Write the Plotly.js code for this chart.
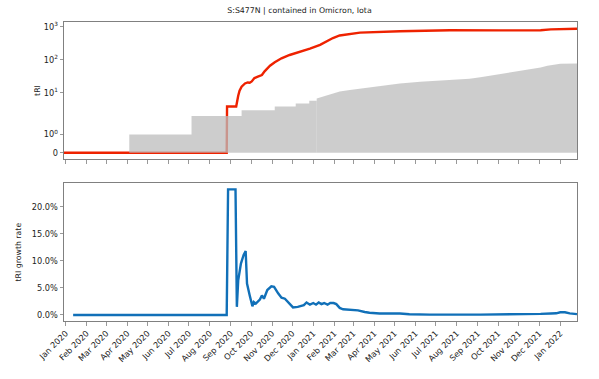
<!DOCTYPE html>
<html lang="en">
<head>
  <meta charset="UTF-8">
  <title>S:S477N tRI</title>
  <script src="https://cdn.plot.ly/plotly-3.0.1.min.js"></script>
  <style>
    body { margin: 0; background: #fff; }
    #chart { width: 599px; height: 379px; }
  </style>
</head>
<body>
  <div id="chart"></div>
  <script>
    // tRI (red line)
    const redDates = [
      "2019-12-29 12:00", "2020-08-26", "2020-08-26 12:00", "2020-09-09", "2020-09-12", "2020-09-14",
      "2020-09-17", "2020-09-22", "2020-09-26", "2020-09-29", "2020-10-02", "2020-10-06",
      "2020-10-11", "2020-10-17", "2020-10-21", "2020-10-29", "2020-11-05", "2020-11-15",
      "2020-11-27", "2020-12-07", "2020-12-12", "2020-12-27", "2021-01-11", "2021-01-30",
      "2021-02-09", "2021-02-24", "2021-03-11", "2021-05-09", "2021-07-22", "2021-10-05",
      "2021-12-03", "2021-12-18", "2022-01-01", "2022-01-25 18:00"
    ];
    const redValues = [
      0, 0, 3.9, 3.9, 8.2, 11.7,
      15.4, 19.3, 20.7, 20.3, 22.2, 28,
      30.8, 34.6, 45, 66, 84, 111,
      140, 160, 176, 217, 283, 455,
      545, 600, 665, 730, 780, 775,
      785, 830, 860, 870
    ];

    // background area: stepped part, then the smoother part
    const greyStepDates = [
      "2019-12-29 12:00", "2020-04-04", "2020-07-05", "2020-09-17", "2020-11-05", "2020-12-06",
      "2020-12-26", "2021-01-06"
    ];
    const greyStepValues = [0, 1, 2, 3, 3.9, 4.8, 5.8, 6.8];
    const greySmoothDates = [
      "2021-01-06", "2021-01-15", "2021-01-25", "2021-02-09", "2021-02-24",
      "2021-03-11", "2021-03-25", "2021-04-09", "2021-05-09", "2021-06-08", "2021-07-08",
      "2021-08-06", "2021-08-20", "2021-09-05", "2021-10-05", "2021-11-03", "2021-12-03",
      "2021-12-13", "2021-12-22", "2022-01-01", "2022-01-25 18:00"
    ];
    const greySmoothValues = [
      6.8, 7.8, 8.8, 11, 12.3,
      13.4, 15, 16.5, 19.3, 21.8, 23.3,
      25, 27, 29.5, 37, 45.7, 58.6,
      66, 72, 76, 77
    ];

    // tRI growth rate (%)
    const rateDates = [
      "2020-01-12", "2020-08-26", "2020-08-28", "2020-09-08", "2020-09-10", "2020-09-12",
      "2020-09-16", "2020-09-20", "2020-09-23", "2020-09-25", "2020-09-29", "2020-10-03",
      "2020-10-05", "2020-10-08", "2020-10-14", "2020-10-17", "2020-10-20", "2020-10-25",
      "2020-10-31", "2020-11-04", "2020-11-10", "2020-11-15", "2020-11-20", "2020-11-26",
      "2020-12-02", "2020-12-09", "2020-12-18", "2020-12-22", "2020-12-27", "2021-01-01",
      "2021-01-05", "2021-01-09", "2021-01-13", "2021-01-17", "2021-01-22", "2021-01-26",
      "2021-01-31", "2021-02-04", "2021-02-09", "2021-02-14", "2021-02-19", "2021-03-08",
      "2021-03-18", "2021-03-25", "2021-04-09", "2021-04-28", "2021-05-09", "2021-05-23",
      "2021-06-22", "2021-09-05", "2021-11-03", "2021-12-03", "2021-12-18", "2021-12-26",
      "2022-01-01", "2022-01-08", "2022-01-15", "2022-01-25 18:00"
    ];
    const rateValues = [
      0, 0, 23.2, 23.2, 1.5, 6.4,
      9.5, 11.1, 11.8, 5.8, 3.6, 1.6,
      2.4, 2.1, 2.85, 3.6, 3.0, 4.6,
      5.3, 5.2, 4.0, 3.2, 3.0, 2.1,
      1.4, 1.5, 1.8, 2.3, 1.9, 2.2,
      1.9, 2.3, 2.0, 2.2, 1.9, 2.2,
      2.2, 2.0, 1.3, 1.05, 1.0, 0.85,
      0.55, 0.4, 0.26, 0.3, 0.26, 0.13,
      0.05, 0.05, 0.08, 0.19, 0.26, 0.3,
      0.5, 0.5, 0.3, 0.15
    ];
    const rateTicks = [0, 5, 10, 15, 20];

    // symlog like matplotlib (base 10, linthresh 2, linscale 1), in decade units
    const LINTHRESH = 2;
    const LINSCALE_ADJ = 1 / (1 - 1 / 10);
    const symlog = (v) => v <= LINTHRESH
      ? v * LINSCALE_ADJ / LINTHRESH
      : LINSCALE_ADJ + Math.log10(v / LINTHRESH);

    const xRange = ["2019-12-29 12:00", "2022-01-25 18:00"];
    const font = { family: "DejaVu Sans, sans-serif", size: 7.8, color: "#222" };
    const tickFont = { family: "DejaVu Sans, sans-serif", size: 8.2, color: "#222" };
    const frame = {
      showline: true, mirror: true, linecolor: "#808080", linewidth: 1,
      ticks: "outside", ticklen: 3.5, tickcolor: "#808080", tickwidth: 0.8,
      showgrid: false, zeroline: false, tickfont: tickFont
    };
    const greyFill = "rgba(188,188,188,0.75)";

    const traces = [
      {
        x: redDates, y: redValues.map(symlog), type: "scatter", mode: "lines",
        line: { color: "#ee2200", width: 2.4 }, xaxis: "x", yaxis: "y"
      },
      {
        x: greyStepDates, y: greyStepValues.map(symlog), type: "scatter", mode: "lines",
        line: { width: 0, shape: "hv" }, fill: "tozeroy", fillcolor: greyFill,
        xaxis: "x", yaxis: "y"
      },
      {
        x: greySmoothDates, y: greySmoothValues.map(symlog), type: "scatter", mode: "lines",
        line: { width: 0 }, fill: "tozeroy", fillcolor: greyFill,
        xaxis: "x", yaxis: "y"
      },
      {
        x: rateDates, y: rateValues, type: "scatter", mode: "lines",
        line: { color: "#1170b8", width: 2.4 }, xaxis: "x2", yaxis: "y2"
      }
    ];

    const layout = {
      width: 599, height: 379,
      margin: { l: 64, r: 22, t: 22, b: 58 },
      paper_bgcolor: "#fff", plot_bgcolor: "#fff",
      font: font,
      showlegend: false,
      title: {
        text: "S:S477N | contained in Omicron, Iota",
        xref: "container", x: 0.5, yref: "container", y: 0.973,
        xanchor: "center", yanchor: "middle", font: font
      },
      xaxis: Object.assign({}, frame, {
        domain: [0, 1], anchor: "y", range: xRange, type: "date",
        tick0: "2020-01-01", dtick: "M1", showticklabels: false
      }),
      yaxis: Object.assign({}, frame, {
        domain: [0.5418, 1], anchor: "x", range: [-0.188, 3.953],
        tickvals: [0, 1, 10, 100, 1000].map(symlog),
        ticktext: ["0", "10<sup>0</sup>", "10<sup>1</sup>", "10<sup>2</sup>", "10<sup>3</sup>"],
        title: { text: "tRI", font: font, standoff: 2 }
      }),
      xaxis2: Object.assign({}, frame, {
        domain: [0, 1], anchor: "y2", range: xRange, type: "date",
        tick0: "2020-01-01", dtick: "M1", tickformat: "%b %Y", tickangle: -45
      }),
      yaxis2: Object.assign({}, frame, {
        domain: [0, 0.4605], anchor: "x2", range: [-1.12, 24.33],
        tickvals: rateTicks, ticktext: rateTicks.map((t) => t.toFixed(1) + "%"),
        title: { text: "tRI growth rate", font: font, standoff: 9 }
      })
    };

    Plotly.newPlot("chart", traces, layout, { displayModeBar: false, staticPlot: true });
  </script>
</body>
</html>
